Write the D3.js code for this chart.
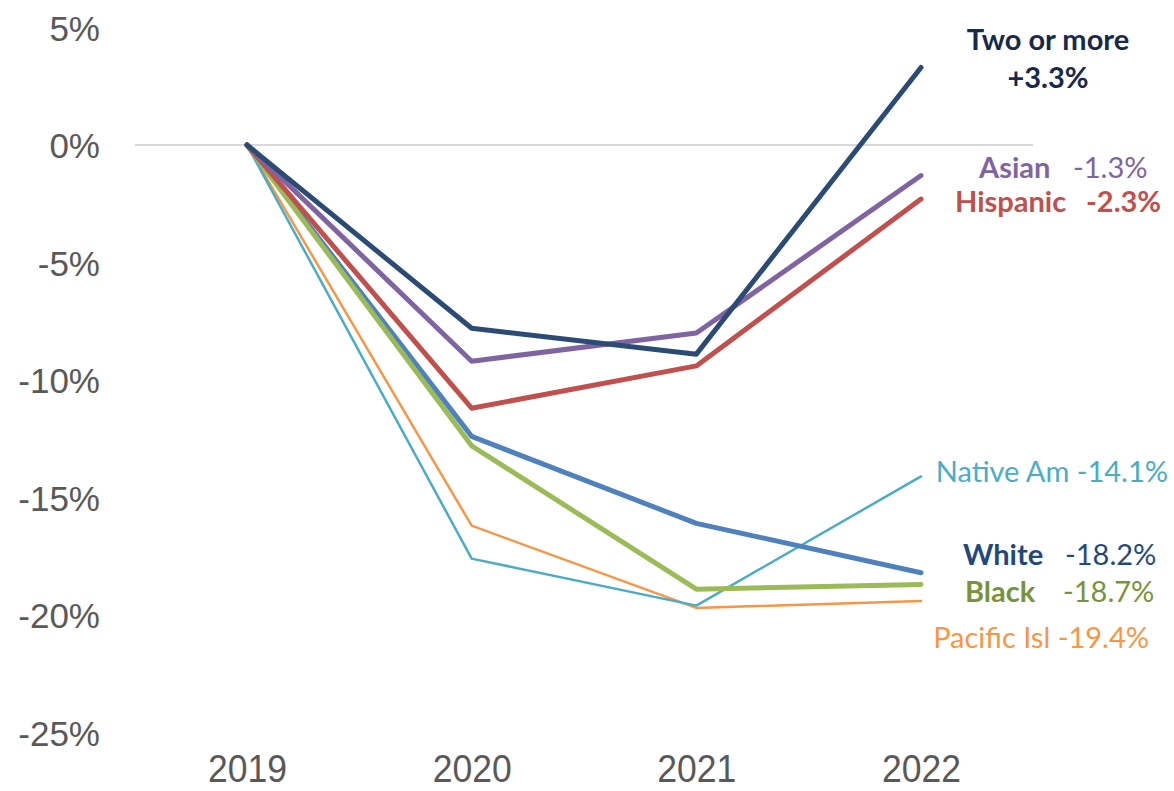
<!DOCTYPE html>
<html><head><meta charset="utf-8">
<script src="https://cdn.jsdelivr.net/npm/d3@7/dist/d3.min.js"></script>
<style>body{margin:0;background:#fff}svg{display:block}</style>
</head><body><svg id="c" width="1174" height="791"></svg>
<script>
const years = ["2019","2020","2021","2022"];
const yTicks = [5,0,-5,-10,-15,-20,-25];
const pacificIsl = [0,-16.2,-19.7,-19.4];
const nativeAm = [0,-17.6,-19.6,-14.1];
const black = [0,-12.8,-18.9,-18.7];
const white = [0,-12.4,-16.1,-18.2];
const hispanic = [0,-11.2,-9.4,-2.3];
const asian = [0,-9.2,-8.0,-1.3];
const twoOrMore = [0,-7.8,-8.9,3.3];

const series = [
  {name:"Pacific Isl", values:pacificIsl, color:"#F79646", w:2.5},
  {name:"Native Am", values:nativeAm, color:"#4BACC6", w:2.5},
  {name:"White", values:white, color:"#4F81BD", w:5},
  {name:"Black", values:black, color:"#9BBB59", w:5},
  {name:"Hispanic", values:hispanic, color:"#C0504D", w:5},
  {name:"Asian", values:asian, color:"#8064A2", w:5},
  {name:"Two or more", values:twoOrMore, color:"#2B4B74", w:5}
];

const svg = d3.select("#c");
const x = d3.scalePoint().domain(years).range([247,921]);
const y = d3.scaleLinear().domain([-25,5]).range([732.5,27.5]);

svg.append("line").attr("x1",135).attr("x2",1033).attr("y1",y(0)).attr("y2",y(0))
  .attr("stroke","#D9D9D9").attr("stroke-width",2);

const yAxis = d3.axisLeft(y).tickValues(yTicks).tickFormat(d=>d+"%").tickSize(0).tickPadding(0);
const ga = svg.append("g").attr("transform","translate(100,0)").call(yAxis);
ga.select(".domain").remove();
ga.selectAll("text").attr("font-family","'Liberation Sans',Arial,sans-serif").attr("font-size",35)
  .attr("fill","#595959").attr("dy","0.36em");

const xAxis = d3.axisBottom(x).tickSize(0).tickPadding(0);
const gx = svg.append("g").attr("transform","translate(0,0)").call(xAxis);
gx.select(".domain").remove();
gx.selectAll("text").attr("font-family","'Liberation Sans',Arial,sans-serif")
  .attr("font-size",38).attr("fill","#595959").attr("y",782).attr("dy",null)
  .attr("textLength",79).attr("lengthAdjust","spacingAndGlyphs");

const line = d3.line().x((d,i)=>x(years[i])).y(d=>y(d));
svg.append("g").selectAll("path").data(series).join("path")
  .attr("d",d=>line(d.values)).attr("fill","none").attr("stroke",d=>d.color)
  .attr("stroke-width",d=>d.w).attr("stroke-linejoin","round").attr("stroke-linecap","round");

const lf = "Lato,'Open Sans',sans-serif";
function lab(txt,xp,yp,color,weight,anchor){
  svg.append("text").attr("x",xp).attr("y",yp).text(txt).attr("fill",color)
    .attr("font-family",lf).attr("font-size",29).attr("font-weight",weight)
    .attr("text-anchor",anchor||"start");
}
lab("Two or more",1048,50,"#17294A","bold","middle");
lab("+3.3%",1048,88,"#17294A","bold","middle");
lab("Asian",979,178,"#8064A2","bold");
lab("-1.3%",1073,178,"#8064A2","normal");
lab("Hispanic",955,212,"#C0504D","bold");
lab("-2.3%",1086,212,"#C0504D","bold");
lab("Native Am -14.1%",1168,482,"#4BACC6","normal","end");
lab("White",963,565,"#1F497D","bold");
lab("-18.2%",1065,565,"#1F497D","normal");
lab("Black",965,602,"#77933C","bold");
lab("-18.7%",1063,602,"#77933C","normal");
lab("Pacific Isl -19.4%",1149,648,"#F79646","normal","end");
</script></body></html>
